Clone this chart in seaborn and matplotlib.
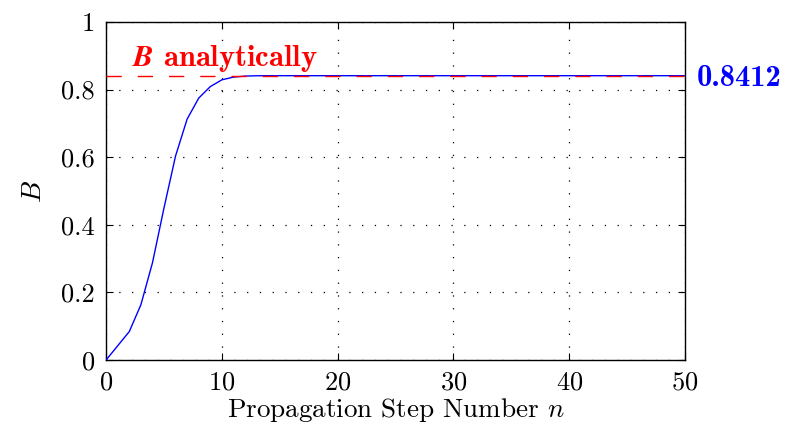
import numpy as np
import pandas as pd
import matplotlib
matplotlib.use("Agg")
import matplotlib.pyplot as plt
import seaborn as sns

# Data
steps = list(range(0, 51))
b_head = [0.0, 0.042, 0.084, 0.163, 0.287, 0.450, 0.604, 0.713, 0.775, 0.809,
          0.829, 0.837, 0.840, 0.841]
b_values = b_head + [0.8412] * (len(steps) - len(b_head))
b_analytic = 0.8412
analytic_x = [0, 50]
x_ticks = [0, 10, 20, 30, 40, 50]
y_ticks = [0, 0.2, 0.4, 0.6, 0.8, 1]
y_ticklabels = ["0", "0.2", "0.4", "0.6", "0.8", "1"]

sns.set_theme(style="white")
plt.rcParams.update({
    "font.family": ["cmr10", "DejaVu Serif"],
    "mathtext.fontset": "cm",
    "axes.unicode_minus": False,
    "axes.formatter.use_mathtext": True,
    "axes.edgecolor": "black",
    "axes.linewidth": 1.0,
    "xtick.direction": "in",
    "ytick.direction": "in",
    "xtick.color": "black",
    "ytick.color": "black",
    "text.color": "black",
    "axes.labelcolor": "black",
    "lines.scale_dashes": False,
})

df = pd.DataFrame({"n": steps, "B": b_values})
df_an = pd.DataFrame({"n": analytic_x, "B": [b_analytic] * len(analytic_x)})

fig = plt.figure(figsize=(7.86, 4.32), dpi=100)
ax = fig.add_axes([0.135, 0.1667, 0.7365, 0.7823])

sns.lineplot(data=df, x="n", y="B", ax=ax, color=(0, 0, 1), linewidth=1.0, zorder=3)
sns.lineplot(data=df_an, x="n", y="B", ax=ax, color=(1, 0, 0), linewidth=1.0,
             dashes=False, zorder=4)
ax.lines[-1].set_linestyle((0, (11, 11.5)))

ax.set_xlim(0, 50)
ax.set_ylim(0, 1)
ax.set_xticks(x_ticks)
ax.set_yticks(y_ticks)
ax.set_yticklabels(y_ticklabels)
ax.tick_params(axis="both", which="both", labelsize=19, length=5, width=0.8,
               top=True, right=True, bottom=True, left=True, pad=8)
ax.grid(True, color="black", linestyle=(0, (0.9, 8.3)), linewidth=0.9)
for s in ax.spines.values():
    s.set_visible(True)
    s.set_color("black")

ax.set_xlabel("Propagation Step Number $n$", fontsize=19.5, labelpad=1)
ax.set_ylabel("$B$", fontsize=20, labelpad=10)

ax.text(2.2, 0.871, r"$\boldsymbol{B}$ analytically", color=(1, 0, 0),
        fontsize=22, family=["cmb10", "DejaVu Serif"], ha="left", va="baseline")
ax.text(51.0, b_analytic, "0.8412", color=(0, 0, 1), fontsize=22,
        family=["cmb10", "DejaVu Serif"], ha="left", va="center_baseline",
        clip_on=False)

fig.savefig("out.png", dpi=100)
